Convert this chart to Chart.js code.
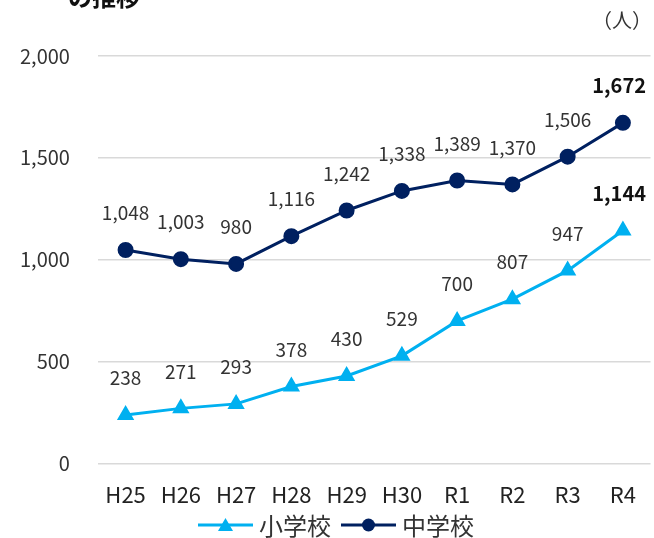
<!DOCTYPE html>
<html>
<head>
<meta charset="utf-8">
<script src="https://cdn.jsdelivr.net/npm/chart.js@4"></script>
<style>
  html, body { margin: 0; padding: 0; background: #fff; }
  #wrap { width: 654px; height: 538px; position: relative; }
</style>
</head>
<body>
<div id="wrap"><canvas id="trendChart"></canvas></div>
<script>
// Data
const years = ['H25', 'H26', 'H27', 'H28', 'H29', 'H30', 'R1', 'R2', 'R3', 'R4'];
const elementary = [238, 271, 293, 378, 430, 529, 700, 807, 947, 1144];
const juniorHigh = [1048, 1003, 980, 1116, 1242, 1338, 1389, 1370, 1506, 1672];
const yTicks = [0, 500, 1000, 1500, 2000];

const FONT = "'Noto Sans CJK JP', 'Noto Sans', sans-serif";
const LIGHT_BLUE = '#00B0F0';
const NAVY = '#002060';

function drawMarker(g, shape, x, y) {
  g.beginPath();
  if (shape === 'circle') {
    g.arc(x, y, 6.5, 0, Math.PI * 2);
  } else {
    g.moveTo(x, y - 7); g.lineTo(x + 7.5, y + 6); g.lineTo(x - 7.5, y + 6); g.closePath();
  }
  g.fill();
}

// Data labels, legend and title fragments
const labelPlugin = {
  id: 'labelPlugin',
  afterDatasetsDraw(chart) {
    const ctx = chart.ctx;
    ctx.save();
    ctx.textAlign = 'center';
    ctx.textBaseline = 'middle';
    chart.data.datasets.forEach((ds, i) => {
      const meta = chart.getDatasetMeta(i);
      meta.data.forEach((pt, j) => {
        const last = j === ds.data.length - 1;
        ctx.font = (last ? 'bold 20px ' : '19px ') + FONT;
        ctx.fillStyle = last ? '#111' : '#333';
        const txt = ds.data[j].toLocaleString('en-US');
        let x = pt.x;
        const w = ctx.measureText(txt).width;
        if (x + w / 2 > chart.width - 8) x = chart.width - 8 - w / 2;
        ctx.fillText(txt, x, pt.y - 37);
      });
    });
    ctx.restore();
  },
  afterDraw(chart) {
    const ctx = chart.ctx;
    ctx.save();
    // title fragment and unit
    ctx.fillStyle = '#111';
    ctx.font = 'bold 24px ' + FONT;
    ctx.textAlign = 'left';
    ctx.textBaseline = 'alphabetic';
    ctx.fillText('の推移', 68, 6);
    ctx.font = '20px ' + FONT;
    ctx.fillStyle = '#333';
    ctx.textAlign = 'right';
    ctx.textBaseline = 'middle';
    ctx.fillText('（人）', 652, 20);

    // legend: line + marker + label
    ctx.font = '24px ' + FONT;
    ctx.textAlign = 'left';
    const lineLen = 55, gap = 6, itemGap = 10;
    const items = chart.data.datasets.map(ds => ({
      ds, w: ctx.measureText(ds.label).width
    }));
    const total = items.reduce((s, it) => s + lineLen + gap + it.w, 0) + itemGap * (items.length - 1);
    let x = 336 - total / 2;
    const y = 525;
    items.forEach(it => {
      ctx.strokeStyle = it.ds.borderColor;
      ctx.fillStyle = it.ds.borderColor;
      ctx.lineWidth = 3;
      ctx.beginPath();
      ctx.moveTo(x, y); ctx.lineTo(x + lineLen, y);
      ctx.stroke();
      drawMarker(ctx, it.ds.pointStyle, x + lineLen / 2, y);
      ctx.fillStyle = '#333';
      ctx.fillText(it.ds.label, x + lineLen + gap, y + 1);
      x += lineLen + gap + it.w + itemGap;
    });
    ctx.restore();
  }
};

const ctx = document.getElementById('trendChart').getContext('2d');
new Chart(ctx, {
  type: 'line',
  data: {
    labels: years,
    datasets: [{
      label: '小学校',
      data: elementary,
      borderColor: LIGHT_BLUE,
      backgroundColor: LIGHT_BLUE,
      borderWidth: 3,
      pointStyle: 'triangle',
      pointRadius: 7,
      tension: 0
    }, {
      label: '中学校',
      data: juniorHigh,
      borderColor: NAVY,
      backgroundColor: NAVY,
      borderWidth: 3,
      pointStyle: 'circle',
      pointRadius: 6.5,
      tension: 0
    }]
  },
  options: {
    responsive: true,
    maintainAspectRatio: false,
    animation: false,
    layout: { autoPadding: false, padding: { top: 56, left: -8, right: -7, bottom: 12 } },
    plugins: {
      tooltip: { enabled: false },
      legend: { display: false }
    },
    scales: {
      x: {
        offset: true,
        grid: { display: false, drawTicks: false },
        border: { display: false },
        ticks: { color: '#222', padding: 18, font: { family: FONT, size: 22 } }
      },
      y: {
        min: 0,
        max: 2000,
        afterBuildTicks(axis) { axis.ticks = yTicks.map(v => ({ value: v })); },
        grid: { color: '#d9d9d9', lineWidth: 1.5, drawTicks: false },
        border: { display: false },
        ticks: {
          color: '#333',
          padding: 28,
          font: { family: FONT, size: 20 },
          callback: v => v.toLocaleString('en-US')
        }
      }
    }
  },
  plugins: [labelPlugin]
});
</script>
</body>
</html>
